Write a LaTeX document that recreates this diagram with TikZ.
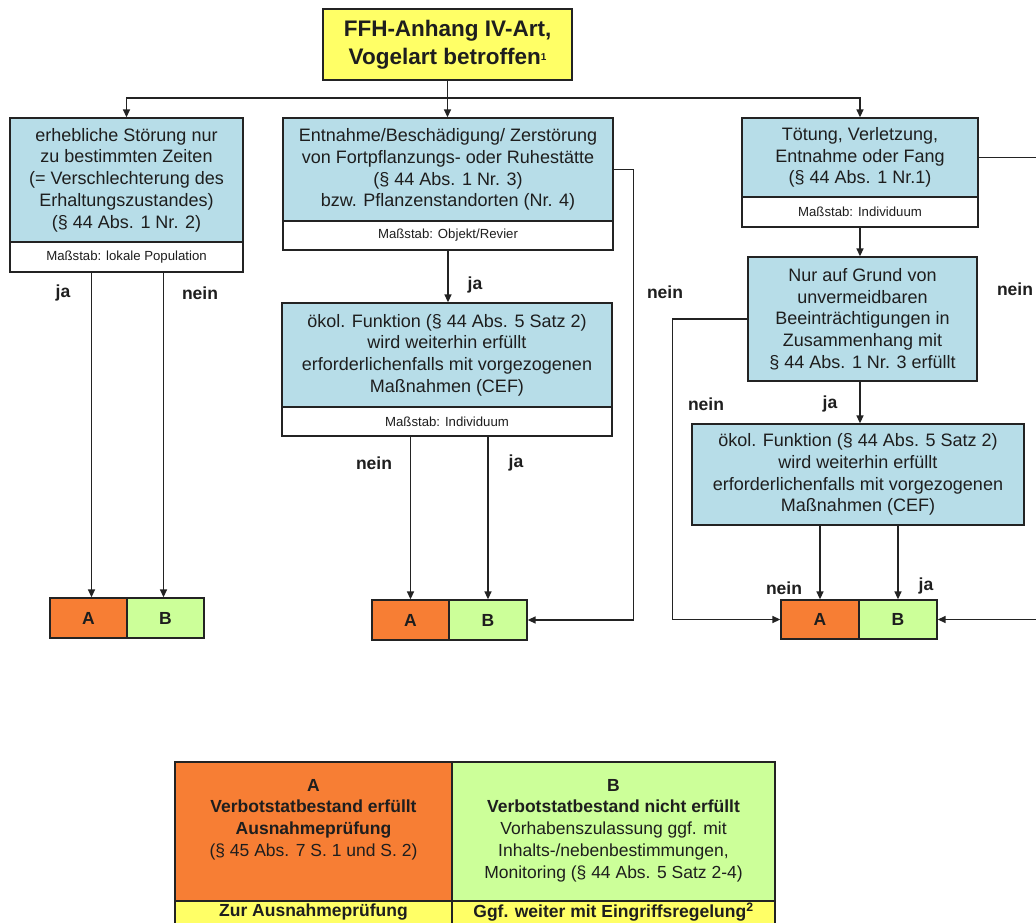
\documentclass[tikz,border=0pt]{standalone}
\usepackage{fontspec}
\setmainfont{Liberation Sans}
\usetikzlibrary{arrows.meta}
\definecolor{boxblue}{RGB}{183,221,232}
\definecolor{orng}{RGB}{247,126,52}
\definecolor{lgreen}{RGB}{204,255,153}
\definecolor{ylw}{RGB}{255,255,102}
\definecolor{edge}{RGB}{35,35,35}
\definecolor{txt}{RGB}{30,30,30}
\newcommand\fsz[2]{\fontsize{#1}{#2}\selectfont}
\begin{document}
\begin{tikzpicture}[x=1pt,y=-1pt,
 box/.style={draw=edge, line width=1.3pt, inner sep=0pt, align=center, text=txt},
 bluebox/.style={box, fill=boxblue, font=\fsz{18}{21.7}},
 scalebox/.style={box, fill=white, font=\fsz{13.2}{15}},
 abox/.style={box, fill=orng, font=\bfseries\fsz{17.5}{20}},
 bbox/.style={box, fill=lgreen, font=\bfseries\fsz{17.5}{20}},
 topbox/.style={box, fill=ylw, font=\bfseries\fsz{22.5}{28}},
 cellA/.style={box, fill=orng},
 cellB/.style={box, fill=lgreen},
 cellY/.style={box, fill=ylw},
 celltext/.style={inner sep=0pt, align=center, text=txt, font=\fsz{17.5}{21.7}},
 lbl/.style={inner sep=0pt, text=txt, font=\bfseries\fsz{17.5}{18}},
 conn/.style={draw=edge, line width=1.4pt},
 arr/.style={conn, -{Triangle[length=8pt,width=7pt]}},
]
\useasboundingbox[fill=white] (0,0) rectangle (1036,923);

% top
\node[topbox, minimum width=249, minimum height=71] (top) at (447.5,44.5)
  {FFH-Anhang IV-Art,\\Vogelart betroffen{\fsz{10}{10}\raisebox{4pt}{1}}};

% left column
\node[bluebox, minimum width=233, minimum height=124] (L1) at (126.5,180)
  {erhebliche Störung nur\\zu bestimmten Zeiten\\(= Verschlechterung des\\Erhaltungszustandes)\\(§ 44 Abs. 1 Nr. 2)};
\node[scalebox, minimum width=233, minimum height=30] (L1m) at (126.5,257) {Maßstab: lokale Population};
\node[abox, minimum width=77, minimum height=40] (LA) at (88.5,618) {A};
\node[bbox, minimum width=77, minimum height=40] (LB) at (165.5,618) {B};

% middle column
\node[bluebox, minimum width=330, minimum height=103] (M1) at (448,169.5)
  {Entnahme/Beschädigung/ Zerstörung\\von Fortpflanzungs- oder Ruhestätte\\(§ 44 Abs. 1 Nr. 3)\\bzw. Pflanzenstandorten (Nr. 4)};
\node[scalebox, minimum width=330, minimum height=29] (M1m) at (448,235.5) {Maßstab: Objekt/Revier};
\node[bluebox, minimum width=330, minimum height=104] (M2) at (447,355)
  {ökol. Funktion (§ 44 Abs. 5 Satz 2)\\wird weiterhin erfüllt\\erforderlichenfalls mit vorgezogenen\\Maßnahmen (CEF)};
\node[scalebox, minimum width=330, minimum height=29] (M2m) at (447,421.5) {Maßstab: Individuum};
\node[abox, minimum width=77, minimum height=40] (MA) at (410.5,620) {A};
\node[bbox, minimum width=78, minimum height=40] (MB) at (488,620) {B};

% right column
\node[bluebox, minimum width=236, minimum height=79] (R1) at (860,157.5)
  {Tötung, Verletzung,\\Entnahme oder Fang\\(§ 44 Abs. 1 Nr.1)};
\node[scalebox, minimum width=236, minimum height=30] (R1m) at (860,212) {Maßstab: Individuum};
\node[bluebox, minimum width=229, minimum height=124] (R2) at (862.5,319)
  {Nur auf Grund von\\unvermeidbaren\\Beeinträchtigungen in\\Zusammenhang mit\\§ 44 Abs. 1 Nr. 3 erfüllt};
\node[bluebox, minimum width=332, minimum height=101] (R3) at (858,474.5)
  {ökol. Funktion (§ 44 Abs. 5 Satz 2)\\wird weiterhin erfüllt\\erforderlichenfalls mit vorgezogenen\\Maßnahmen (CEF)};
\node[abox, minimum width=78, minimum height=39] (RA) at (820,619.5) {A};
\node[bbox, minimum width=78, minimum height=39] (RB) at (898,619.5) {B};

% connectors
\coordinate (hub) at (447.5,98);
\coordinate (redge) at (1042,0);
\draw[conn] (top.south) -- (hub);
\draw[arr] (hub) -| (L1.north);
\draw[arr] (hub) -| (R1.north);
\draw[arr] (hub) -- (hub |- M1.north);
\draw[arr] ([xshift=3pt]L1m.south -| LA.north) -- ([xshift=3pt]LA.north);
\draw[arr] ([xshift=-2pt]L1m.south -| LB.north) -- ([xshift=-2pt]LB.north);
\draw[arr] (M1m.south) -- (M1m.south |- M2.north);
\draw[arr] (M1.east) -- ++(20,0) |- (MB.east);
\draw[arr] (M2m.south -| MA.north) -- (MA.north);
\draw[arr] (M2m.south -| MB.north) -- (MB.north);
\draw[arr] (R1m.south) -- (R1m.south |- R2.north);
\draw[arr] (R1.east) -| (redge |- RB.east) -- (RB.east);
\draw[arr] (R2.west) -- ++(-75,0) |- (RA.west);
\draw[arr] (R1m.south |- R2.south) -- (R1m.south |- R3.north);
\draw[arr] (R3.south -| RA.north) -- (RA.north);
\draw[arr] (R3.south -| RB.north) -- (RB.north);

% labels
\node[lbl] (l1) at (63,293) {ja};
\node[lbl] (l2) at (200,293) {nein};
\node[lbl] (l3) at (475,285) {ja};
\node[lbl] (l4) at (665,292) {nein};
\node[lbl] (l5) at (374,463) {nein};
\node[lbl] (l6) at (516,463) {ja};
\node[lbl] (l7) at (706,404) {nein};
\node[lbl] (l8) at (830,404) {ja};
\node[lbl] (l9) at (1015,289) {nein};
\node[lbl] (l10) at (784,588) {nein};
\node[lbl] (l11) at (926,586) {ja};

% legend table
\node[cellA, minimum width=277, minimum height=139] (TA) at (313.5,831.5) {};
\node[cellB, minimum width=323, minimum height=139] (TB) at (613.5,831.5) {};
\node[cellY, minimum width=277, minimum height=40] (TA2) at (313.5,921) {};
\node[cellY, minimum width=323, minimum height=40] (TB2) at (613.5,921) {};
\node[celltext, anchor=north] (tA) at (313.5,779)
  {\textbf{A}\\\textbf{Verbotstatbestand erfüllt}\\\textbf{Ausnahmeprüfung}\\(§ 45 Abs. 7 S. 1 und S. 2)};
\node[celltext, anchor=north] (tB) at (613.5,779)
  {\textbf{B}\\\textbf{Verbotstatbestand nicht erfüllt}\\Vorhabenszulassung ggf. mit\\Inhalts-/nebenbestimmungen,\\Monitoring (§ 44 Abs. 5 Satz 2-4)};
\node[celltext, font=\bfseries\fsz{17.5}{20}] (tA2) at (313.5,912) {Zur Ausnahmeprüfung};
\node[celltext, font=\bfseries\fsz{17.5}{20}] (tB2) at (613.5,912) {Ggf. weiter mit Eingriffsregelung\textsuperscript{2}};
\end{tikzpicture}
\end{document}
